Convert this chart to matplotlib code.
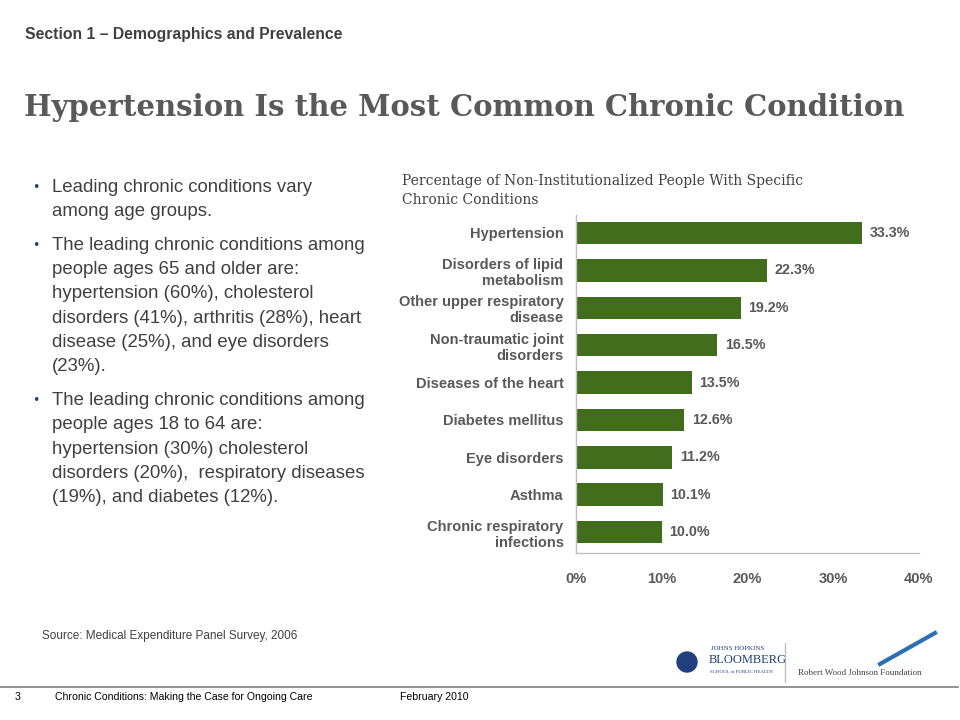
import numpy as np
import matplotlib.pyplot as plt
from matplotlib.lines import Line2D
from matplotlib.patches import Ellipse

# chart data
conditions = ["Hypertension", "Disorders of lipid\nmetabolism", "Other upper respiratory\ndisease",
              "Non-traumatic joint\ndisorders", "Diseases of the heart", "Diabetes mellitus",
              "Eye disorders", "Asthma", "Chronic respiratory\ninfections"]
percent = [33.3, 22.3, 19.2, 16.5, 13.5, 12.6, 11.2, 10.1, 10.0]
xticks = [0, 10, 20, 30, 40]

bullets = [
    ["Leading chronic conditions vary", "among age groups."],
    ["The leading chronic conditions among", "people ages 65 and older are:",
     "hypertension (60%), cholesterol", "disorders (41%), arthritis (28%), heart",
     "disease (25%), and eye disorders", "(23%)."],
    ["The leading chronic conditions among", "people ages 18 to 64 are:",
     "hypertension (30%) cholesterol", "disorders (20%),  respiratory diseases",
     "(19%), and diabetes (12%)."],
]

gray = "#595959"
green = "#426D1C"
W, H = 960, 720

fig = plt.figure(figsize=(9.6, 7.2), dpi=100)
fig.patch.set_facecolor("white")

def px(x, y):
    # pixel coords -> figure fraction
    return x / W, 1 - y / H

# header
fig.text(*px(25, 35), "Section 1 \u2013 Demographics and Prevalence", fontsize=11.3,
         color="#404040", family="Liberation Sans", weight="bold", va="center", ha="left")
fig.text(*px(24, 108), "Hypertension Is the Most Common Chronic Condition", fontsize=21,
         color=gray, family="DejaVu Serif", weight="bold", va="center", ha="left")

# bullet text
y = 187
for block in bullets:
    fig.text(*px(36, y), "\u2022", fontsize=9, color="#1F3F7F", va="center", ha="center")
    for line in block:
        fig.text(*px(52, y), line, fontsize=13.4, color="#404040",
                 family="Liberation Sans", va="center", ha="left")
        y += 24.3
    y += 9.5

# chart
fig.text(*px(402, 181), "Percentage of Non-Institutionalized People With Specific",
         fontsize=10, color="#404040", family="DejaVu Serif", weight="light",
         va="center", ha="left")
fig.text(*px(402, 200), "Chronic Conditions", fontsize=10, color="#404040",
         family="DejaVu Serif", weight="light", va="center", ha="left")

ax = fig.add_axes([576 / W, 1 - 553 / H, (919 - 576) / W, (553 - 215) / H])
ypos = np.arange(len(conditions))
ax.barh(ypos, percent, height=0.6, color=green)
ax.set_xlim(0, 40)
ax.set_ylim(len(conditions) - 0.44, -0.48)
ax.set_yticks(ypos)
ax.set_yticklabels(conditions, fontsize=10.5, color=gray, weight="bold",
                   family="Liberation Sans", linespacing=1.2)
ax.set_xticks(xticks)
ax.set_xticklabels([f"{t}%" for t in xticks], fontsize=10.5, color=gray, weight="bold",
                   family="Liberation Sans")
ax.tick_params(length=0, axis="y", pad=9)
ax.tick_params(length=0, axis="x", pad=14)
for s in ["top", "right"]:
    ax.spines[s].set_visible(False)
for s in ["left", "bottom"]:
    ax.spines[s].set_color("#BFBFBF")
    ax.spines[s].set_linewidth(1)
for yi, v in zip(ypos, percent):
    ax.text(v + 0.9, yi, f"{v:.1f}%", va="center", ha="left", fontsize=10.3,
            color=gray, weight="bold", family="Liberation Sans")

# source
fig.text(*px(42, 636), "Source: Medical Expenditure Panel Survey, 2006", fontsize=8.5,
         color="#404040", family="Liberation Sans", va="center", ha="left")

# logos as text
fig.text(*px(711, 648), "JOHNS HOPKINS", fontsize=5, color="#1F3F7F", family="Liberation Serif",
         va="center", ha="left")
fig.text(*px(709, 660), "BLOOMBERG", fontsize=9, color="#1F3F7F", family="Liberation Serif",
         va="center", ha="left")
fig.text(*px(710, 672), "SCHOOL of PUBLIC HEALTH", fontsize=3.5, color="#1F3F7F",
         family="Liberation Serif", va="center", ha="left")
fig.patches.append(Ellipse(px(687, 662), 20 / W, 20 / H, transform=fig.transFigure,
                           color="#1F3F7F"))
fig.lines.append(Line2D([785 / W, 785 / W], [1 - 643 / H, 1 - 682 / H],
                        transform=fig.transFigure, color="#BFBFBF", lw=1))
fig.text(*px(798, 673), "Robert Wood Johnson Foundation", fontsize=6.5, color="#404040",
         family="Liberation Serif", va="center", ha="left")
fig.lines.append(Line2D([880 / W, 935 / W], [1 - 664 / H, 1 - 633 / H],
                        transform=fig.transFigure, color="#2C6FB5", lw=3))

# footer
fig.lines.append(Line2D([0, 958 / W], [1 - 687 / H, 1 - 687 / H],
                        transform=fig.transFigure, color="#808080", lw=1.2))
fig.text(*px(15, 697), "3", fontsize=7.6, color="black", family="Liberation Sans",
         va="center", ha="left")
fig.text(*px(55, 697), "Chronic Conditions: Making the Case for Ongoing Care", fontsize=7.6,
         color="black", family="Liberation Sans", va="center", ha="left")
fig.text(*px(400, 697), "February 2010", fontsize=7.6, color="black",
         family="Liberation Sans", va="center", ha="left")

fig.savefig("out.png", dpi=100)
